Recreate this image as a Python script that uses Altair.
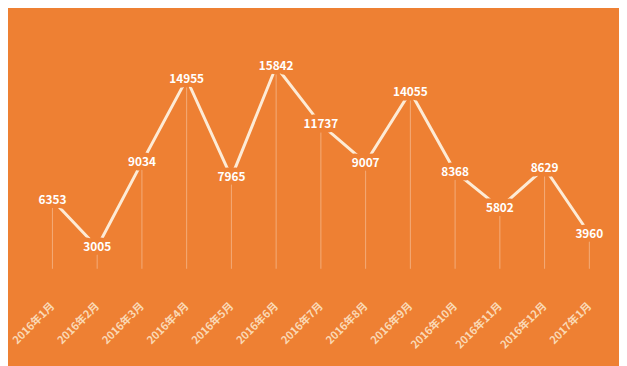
import altair as alt
import pandas as pd

months = ["2016年1月", "2016年2月", "2016年3月", "2016年4月", "2016年5月", "2016年6月",
          "2016年7月", "2016年8月", "2016年9月", "2016年10月", "2016年11月", "2016年12月", "2017年1月"]
values = [6353, 3005, 9034, 14955, 7965, 15842, 11737, 9007, 14055, 8368, 5802, 8629, 3960]

BG = "#EE8033"
df = pd.DataFrame({"idx": list(range(len(months))), "month": months, "value": values, "base": [1470] * len(months)})

x = alt.X("idx:Q", axis=None, scale=alt.Scale(domain=[-0.993, 12.663], nice=False, zero=False))
y = alt.Y("value:Q", axis=None, scale=alt.Scale(domain=[-5275, 19837], nice=False, zero=False))

base = alt.Chart(df)

rules = base.mark_rule(color="white", opacity=0.35, strokeWidth=1).encode(x=x, y=y, y2="base:Q")
line = base.mark_line(color="#FDEBD6", strokeWidth=3).encode(x=x, y=y)
halo = base.mark_text(font="Noto Sans CJK SC", fontSize=12, fontWeight="bold", stroke=BG, strokeWidth=9,
                      strokeJoin="round", fill=BG).encode(x=x, y=y, text="value:Q")
labels = base.mark_text(font="Noto Sans CJK SC", fontSize=12, fontWeight="bold", color="white").encode(
    x=x, y=y, text="value:Q")
xlabels = base.mark_text(font="Noto Sans CJK SC", fontSize=11, fontWeight="bold", color="#FAD9B5",
                         angle=315, align="right", baseline="middle", dx=1).encode(
    x=x, y=alt.value(299), text="month:N")

chart = alt.layer(rules, line, halo, labels, xlabels).properties(
    width=619, height=358, background=BG, padding=0,
    autosize=alt.AutoSizeParams(type="fit", contains="padding"),
).configure_view(stroke=None)

chart.save("out.html", embed_options={"renderer": "svg", "actions": False})
